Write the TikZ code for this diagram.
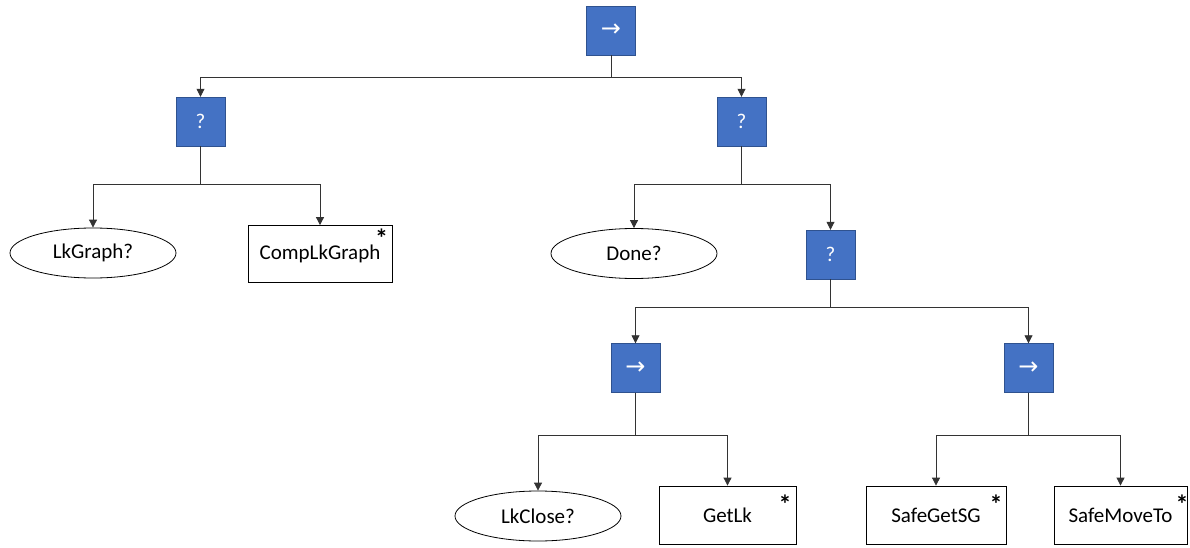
\documentclass[tikz,border=0pt]{standalone}
\usepackage{fontspec}
\setmainfont{Carlito}
\newfontfamily\symfont{DejaVu Sans}
\usetikzlibrary{shapes.geometric,arrows.meta}
\definecolor{boxblue}{HTML}{4472C4}
\definecolor{boxedge}{HTML}{2F528F}
\begin{document}
\begin{tikzpicture}[x=1pt,y=-1pt,
  ctl/.style={draw=boxedge,fill=boxblue,minimum width=49pt,minimum height=49pt,inner sep=0pt,text=white,font=\fontsize{21}{25}\selectfont},
  cond/.style={draw,ellipse,minimum width=166pt,minimum height=50pt,inner sep=0pt,font=\fontsize{21}{25}\selectfont,line width=0.8pt},
  act/.style={draw,rectangle,minimum height=57pt,inner sep=0pt,font=\fontsize{21}{25}\selectfont,line width=0.8pt},
  star/.style={inner sep=0pt,font=\fontsize{26}{30}\selectfont\bfseries},
  conn/.style={draw=black!80,line width=0.8pt,-{Triangle[length=8pt,width=8pt]}}]
\useasboundingbox (0,0) rectangle (1190,548);
% control nodes
\node[ctl] (root) at (611,30.5) {\symfont\fontsize{24}{28}\selectfont →};
\node[ctl] (fbL) at (200.5,121.5) {?};
\node[ctl] (fbR) at (741.5,121.5) {?};
\node[ctl] (fbC) at (830.5,254.5) {?};
\node[ctl] (sqL) at (635.5,368) {\symfont\fontsize{24}{28}\selectfont →};
\node[ctl] (sqR) at (1028.5,368) {\symfont\fontsize{24}{28}\selectfont →};
% leaves
\node[cond] (lkgraph) at (93,253) {LkGraph?};
\node[act,minimum width=144pt] (complk) at (320,254) {CompLkGraph};
\node[cond] (done) at (634,253.5) {Done?};
\node[cond] (lkclose) at (538,516) {LkClose?};
\node[act,minimum width=137pt,minimum height=58pt] (getlk) at (727.5,515) {GetLk};
\node[act,minimum width=140pt,minimum height=58pt] (safeget) at (936,515) {SafeGetSG};
\node[act,minimum width=133pt,minimum height=58pt] (safemove) at (1120.5,515) {SafeMoveTo};
% asterisks
\node[star] (s1) at (381.5,238.5) {*};
\node[star] (s2) at (785,504) {*};
\node[star] (s3) at (996,504) {*};
\node[star] (s4) at (1182,504) {*};
% connectors
\draw[conn] (root.south) -- ++(0,22) -| (fbL.north);
\draw[conn] (root.south) -- ++(0,22) -| (fbR.north);
\draw[conn] (fbL.south) -- ++(0,38) -| (lkgraph.north);
\draw[conn] (fbL.south) -- ++(0,38) -| (complk.north);
\draw[conn] (fbR.south) -- ++(0,38) -| (done.north);
\draw[conn] (fbR.south) -- ++(0,38) -| (fbC.north);
\draw[conn] (fbC.south) -- ++(0,28) -| (sqL.north);
\draw[conn] (fbC.south) -- ++(0,28) -| (sqR.north);
\draw[conn] (sqL.south) -- ++(0,43) -| (lkclose.north);
\draw[conn] (sqL.south) -- ++(0,43) -| (getlk.north);
\draw[conn] (sqR.south) -- ++(0,43) -| (safeget.north);
\draw[conn] (sqR.south) -- ++(0,43) -| (safemove.north);
\end{tikzpicture}
\end{document}
